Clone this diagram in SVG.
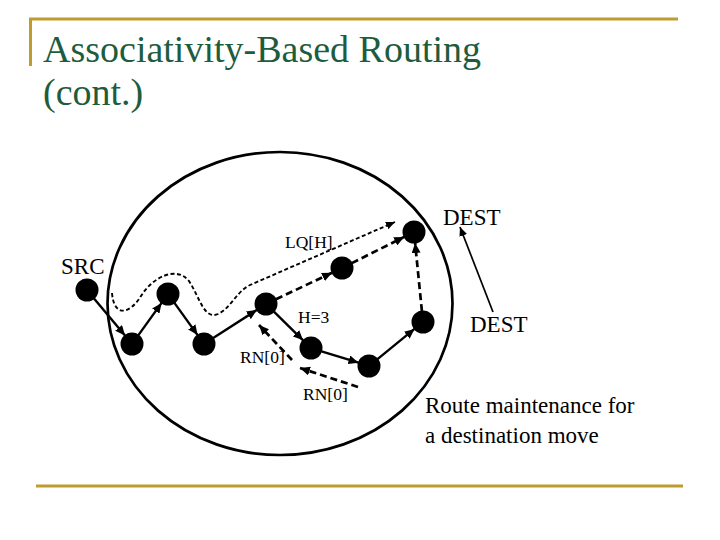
<svg xmlns="http://www.w3.org/2000/svg" width="720" height="540" viewBox="0 0 720 540">
<style>
.title{font-family:"Liberation Serif","Times New Roman",serif;font-size:38px;fill:#1E5C3E}
.lbl{font-family:"Liberation Serif","Times New Roman",serif;fill:#000}
.big{font-size:23px}
.small{font-size:17.5px}
.node{fill:#000}
.solid{stroke:#000;stroke-width:2.4;fill:none}
.dash{stroke:#000;stroke-width:2.7;fill:none;stroke-dasharray:7 4}
.dot{stroke:#000;stroke-width:1.9;fill:none;stroke-dasharray:4 2.5}
.thin{stroke:#000;stroke-width:1.7;fill:none}
.gold{stroke:#BE9C2E;stroke-width:3;fill:none}
</style>
<defs>
<marker id="ah" markerUnits="userSpaceOnUse" markerWidth="11" markerHeight="9" refX="10" refY="4.5" orient="auto">
<path d="M0,0 L10,4.5 L0,9 z" fill="#000"/>
</marker>
<marker id="ahs" markerUnits="userSpaceOnUse" markerWidth="10" markerHeight="8" refX="9" refY="4" orient="auto">
<path d="M0,0 L9,4 L0,8 z" fill="#000"/>
</marker>
</defs>
<rect width="720" height="540" fill="#fff"/>
<g id="frame">
<path class="gold" d="M30.5,66 V19 H678"/>
<path class="gold" d="M36,486 H683"/>
</g>
<g id="title">
<text class="title" x="43" y="62">Associativity-Based Routing</text>
<text class="title" x="43" y="105">(cont.)</text>
</g>
<g id="region">
<ellipse cx="280" cy="303.5" rx="172.5" ry="151.5" fill="none" stroke="#000" stroke-width="2.7"/>
</g>
<g id="connectors">
<line class="solid" x1="94" y1="298.4" x2="125" y2="335.6" marker-end="url(#ah)"/>
<line class="solid" x1="138.4" y1="335.1" x2="161.6" y2="302.9" marker-end="url(#ah)"/>
<line class="solid" x1="174.4" y1="302.9" x2="197.6" y2="335.1" marker-end="url(#ah)"/>
<line class="solid" x1="213.2" y1="338" x2="256.8" y2="310" marker-end="url(#ah)"/>
<line class="solid" x1="273.9" y1="311.7" x2="303.1" y2="340.3" marker-end="url(#ah)"/>
<line class="solid" x1="321.5" y1="351.3" x2="358.5" y2="362.7" marker-end="url(#ah)"/>
<line class="solid" x1="377.5" y1="359.1" x2="414.5" y2="328.9" marker-end="url(#ah)"/>
<line class="dash" x1="276" y1="299.3" x2="332" y2="272.7" marker-end="url(#ah)"/>
<line class="dash" x1="351.8" y1="263.1" x2="404.2" y2="236.9" marker-end="url(#ah)"/>
<line class="dash" x1="421.9" y1="311" x2="415.1" y2="243" marker-end="url(#ah)"/>
<line class="dash" x1="292" y1="360" x2="259" y2="325" marker-end="url(#ah)"/>
<line class="dash" x1="358" y1="387" x2="300" y2="368" marker-end="url(#ah)"/>
<path class="dot" d="M112,293 C114,318 130,314 141,296 C152,278 176,265 189,281 C200,298 204,320 218,314 C231,308 236,292 250,285 L395,222" marker-end="url(#ahs)"/>
<line class="thin" x1="493" y1="312" x2="460" y2="227" marker-end="url(#ahs)"/>
</g>
<g id="nodes">
<circle id="src" class="node" cx="87" cy="290" r="11.5"/>
<circle id="n1" class="node" cx="132" cy="344" r="11.5"/>
<circle id="n2" class="node" cx="168" cy="294" r="11.5"/>
<circle id="n3" class="node" cx="204" cy="344" r="11.5"/>
<circle id="n4" class="node" cx="266" cy="304" r="11.5"/>
<circle id="n5" class="node" cx="342" cy="268" r="11.5"/>
<circle id="n6" class="node" cx="414" cy="232" r="11.5"/>
<circle id="n7" class="node" cx="311" cy="348" r="11.5"/>
<circle id="n8" class="node" cx="369" cy="366" r="11.5"/>
<circle id="n9" class="node" cx="423" cy="322" r="11.5"/>
</g>
<g id="labels">
<text class="lbl big" x="61" y="274">SRC</text>
<text class="lbl small" x="285" y="248">LQ[H]</text>
<text class="lbl small" x="298" y="323">H=3</text>
<text class="lbl small" x="240" y="363">RN[0]</text>
<text class="lbl small" x="303" y="400">RN[0]</text>
<text class="lbl big" x="443" y="225">DEST</text>
<text class="lbl big" x="470" y="332">DEST</text>
<text class="lbl big" x="425" y="413">Route maintenance for</text>
<text class="lbl big" x="425" y="443">a destination move</text>
</g>
</svg>
